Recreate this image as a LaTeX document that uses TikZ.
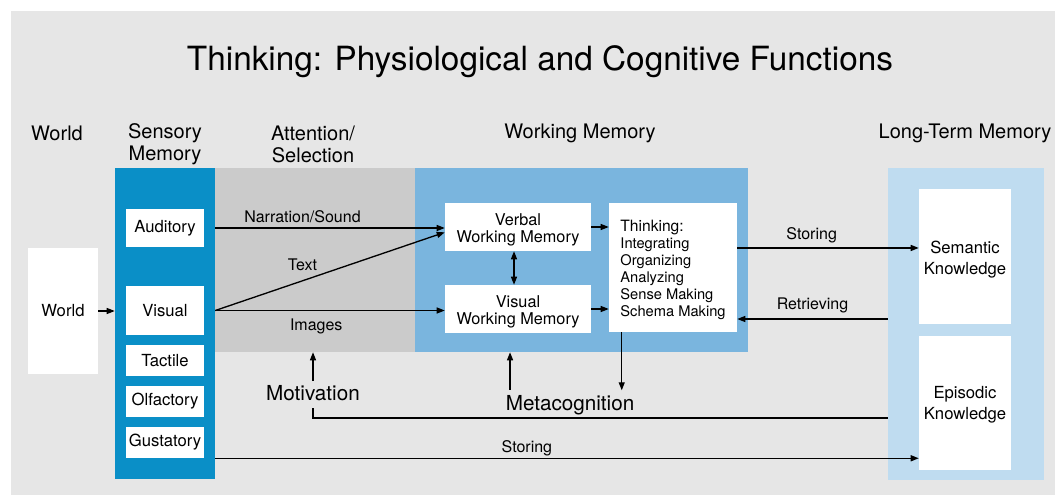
\documentclass[tikz,border=0pt]{standalone}
\usepackage{fontspec}
\setmainfont{TeX Gyre Heros}
\usetikzlibrary{arrows.meta,fit}
\definecolor{bg}{HTML}{E6E6E6}
\definecolor{sensblue}{HTML}{0A8FC7}
\definecolor{attgrey}{HTML}{CBCBCB}
\definecolor{wmblue}{HTML}{7AB5DE}
\definecolor{ltmblue}{HTML}{BFDCF0}
\begin{document}
\begin{tikzpicture}[x=0.75pt,y=-0.75pt,
  region/.style={inner sep=0pt, draw=none},
  wbox/.style={fill=white, inner sep=0pt, draw=none},
  wtxt/.style={align=center, inner sep=0pt, font=\fontsize{12.5}{15.75}\selectfont},
  wmtxt/.style={align=center, inner sep=0pt, font=\fontsize{12.2}{12.75}\selectfont},
  arr/.style={line width=1pt, -{Triangle[length=6pt,width=4.5pt]}},
  darr/.style={line width=1pt, {Triangle[length=6pt,width=4.5pt]}-{Triangle[length=6pt,width=4.5pt]}},
  ln/.style={line width=1pt},
  lbl/.style={font=\fontsize{12}{14}\selectfont, inner sep=0pt},
  hdr/.style={font=\fontsize{15}{16.5}\selectfont, align=center, inner sep=0pt},
  big/.style={font=\fontsize{15.5}{18}\selectfont, inner sep=0pt}]

\useasboundingbox (0,0) rectangle (1055,495);
\fill[white] (0,0) rectangle (1055,495);
\fill[bg] (11,11) rectangle (1055,495);

% title
\node[font=\fontsize{25}{30}\selectfont, inner sep=0pt] (title) at (540,62) {Thinking: Physiological and Cognitive Functions};

% headers
\node[hdr] (hworld) at (57,133) {World};
\node[hdr] (hsens) at (165,144) {Sensory\\Memory};
\node[hdr] (hatt) at (313,144) {Attention/\\Selection};
\node[hdr] (hwm) at (580,133) {Working Memory};
\node[hdr] (hltm) at (965,133) {Long-Term Memory};

% regions
\node[region, fill=sensblue, fit={(115,168) (215,479)}] (sens) {};
\node[region, fill=attgrey, fit={(215,168) (415,352)}] (att) {};
\node[region, fill=wmblue, fit={(415,168) (748,352)}] (wm) {};
\node[region, fill=ltmblue, fit={(888,168) (1044,480)}] (ltm) {};

% white boxes
\node[wbox, fit={(28,248) (98,374)}, label={[wtxt]center:World}] (world) {};
\node[wbox, fit={(126,209) (204,247)}, label={[wtxt]center:Auditory}] (aud) {};
\node[wbox, fit={(126,286) (204,335)}, label={[wtxt]center:Visual}] (vis) {};
\node[wbox, fit={(126,345) (204,376)}, label={[wtxt]center:Tactile}] (tac) {};
\node[wbox, fit={(126,386) (204,417)}, label={[wtxt]center:Olfactory}] (olf) {};
\node[wbox, fit={(126,427) (204,458)}, label={[wtxt]center:Gustatory}] (gus) {};
\node[wbox, fit={(445,203) (591,251)}, label={[wmtxt, yshift=-2pt]center:Verbal\\Working Memory}] (vwm) {};
\node[wbox, fit={(445,285) (591,333)}, label={[wmtxt, yshift=-2pt]center:Visual\\Working Memory}] (viswm) {};
\node[wbox, fit={(609,203) (737,332)}] (think) {};
\node[align=left, inner sep=0pt, font=\fontsize{11}{12.75}\selectfont] (thinktext) at ([yshift=-1.5pt]think.center) {{\fontsize{11.7}{12.75}\selectfont Thinking:}\\Integrating\\Organizing\\Analyzing\\Sense Making\\Schema Making};
\node[wbox, fit={(919,189) (1011,324)}, label={[wtxt, yshift=-2pt]center:Semantic\\Knowledge}] (sem) {};
\node[wbox, fit={(919,336) (1011,470)}, label={[wtxt, yshift=-1.5pt]center:Episodic\\Knowledge}] (epi) {};

% labels below
\node[big] (mot) at (313,393) {Motivation};
\node[big] (meta) at (570,405) {Metacognition};

% arrows
\draw[arr] (world.east) -- (world.east -| sens.west);
\draw[arr] (aud.east -| sens.east) -- (aud.east -| vwm.west)
  node[lbl, pos=0.38, above=3.5pt] {Narration/Sound};
\draw[arr] (vis.east -| sens.east) -- ([yshift=-4pt]vwm.west)
  node[lbl, pos=0.38, above=7pt] {Text};
\draw[arr] (vis.east -| sens.east) -- (vis.east -| viswm.west)
  node[lbl, pos=0.44, below=6pt] {Images};
\draw[darr] ([xshift=-3pt]vwm.south) -- ([xshift=-3pt]viswm.north);
\draw[arr] (vwm.east) -- (vwm.east -| think.west);
\draw[arr] (viswm.east) -- (viswm.east -| think.west);

\coordinate (stE) at ([yshift=6.4pt]sem.west);
\draw[arr] (think.east |- stE) -- (stE)
  node[lbl, pos=0.41, above=3.5pt] {Storing};
\coordinate (rtS) at ([yshift=3.75pt]ltm.west);
\draw[arr] (rtS) -- (rtS -| think.east)
  node[lbl, midway, above=4pt] {Retrieving};

\draw[arr] ([xshift=9.75pt]think.south west) -- ++(0,58);
\coordinate (wmup) at ([xshift=-53.6pt]wm.south);
\draw[arr] ([yshift=4pt]meta.north -| wmup) -- (wmup);
\draw[arr] ([yshift=3pt]mot.north) -- (mot.north |- att.south);

\path (ltm.west |- epi.center) ++(0,15) coordinate (ml);
\draw[ln] (ml) -- (ml -| mot.south) -- ++(0,-10);

\path (gus.south -| sens.east) coordinate (gs);
\draw[arr] (gs) -- (gs -| epi.west)
  node[lbl, pos=0.443, above=1pt] {Storing};
\end{tikzpicture}
\end{document}
